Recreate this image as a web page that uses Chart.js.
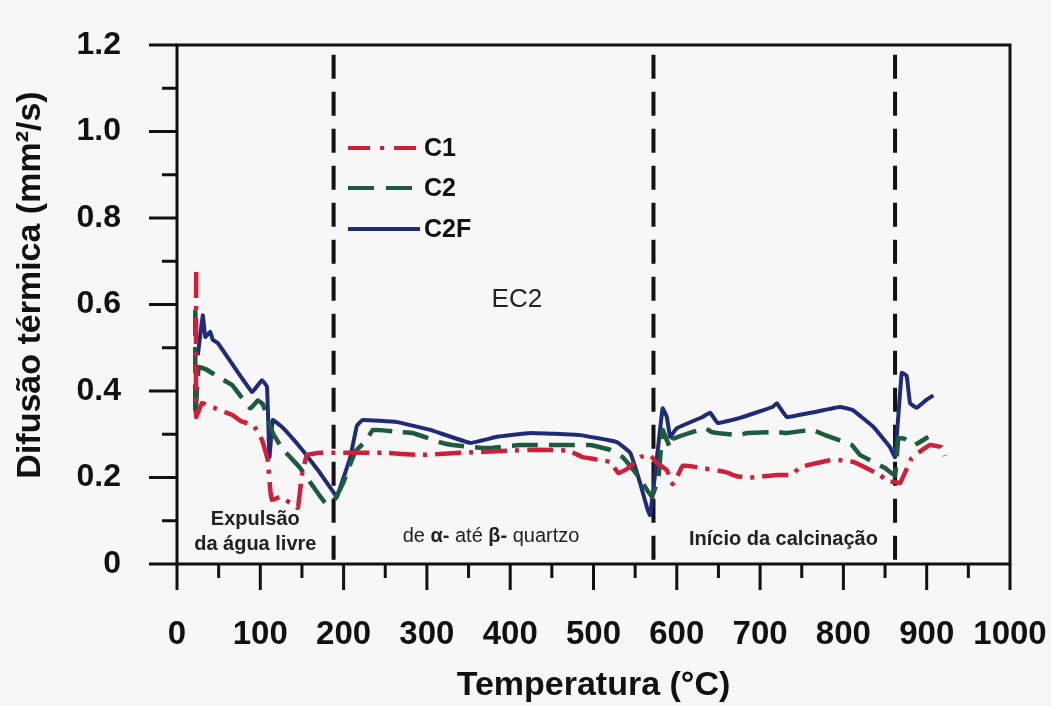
<!DOCTYPE html>
<html>
<head>
<meta charset="utf-8">
<script src="https://cdn.jsdelivr.net/npm/chart.js@4.4.1/dist/chart.umd.min.js"></script>
<style>
  body { margin: 0; background: #f7f7f7; }
  #wrap { width: 1051px; height: 706px; position: relative; }
</style>
</head>
<body>
<div id="wrap"><canvas id="myChart"></canvas></div>
<script>
// Temperatures (°C) and thermal diffusivity (mm²/s)
const c1Temp = [23, 23, 30, 46, 66, 77, 92, 102, 109, 112, 114, 124, 136, 145, 150, 156, 172, 196, 250, 290, 340, 400, 430, 470, 487, 520, 530, 542, 556, 568, 575, 588, 595, 600, 607, 624, 658, 672, 688, 721, 738, 748, 784, 796, 812, 844, 853, 862, 868, 882, 892, 904, 918, 922];
const c1Val  = [0.675, 0.34, 0.372, 0.36, 0.345, 0.33, 0.32, 0.287, 0.24, 0.17, 0.148, 0.155, 0.141, 0.13, 0.206, 0.252, 0.257, 0.257, 0.257, 0.252, 0.257, 0.262, 0.264, 0.262, 0.247, 0.236, 0.21, 0.222, 0.247, 0.252, 0.235, 0.217, 0.185, 0.2, 0.227, 0.224, 0.213, 0.203, 0.2, 0.206, 0.206, 0.224, 0.24, 0.24, 0.236, 0.206, 0.19, 0.19, 0.187, 0.245, 0.26, 0.275, 0.27, 0.25];

const c2Temp = [22, 22, 26, 35, 50, 66, 88, 97, 103, 115, 126, 147, 158, 178, 188, 200, 214, 228, 235, 270, 283, 315, 331, 372, 412, 460, 496, 508, 520, 535, 555, 570, 578, 583, 592, 596, 634, 642, 673, 685, 720, 732, 763, 778, 810, 820, 850, 862, 866, 873, 885, 902];
const c2Val  = [0.587, 0.34, 0.455, 0.45, 0.432, 0.414, 0.36, 0.378, 0.37, 0.303, 0.268, 0.224, 0.194, 0.141, 0.145, 0.19, 0.26, 0.287, 0.31, 0.305, 0.303, 0.282, 0.275, 0.268, 0.275, 0.275, 0.275, 0.27, 0.264, 0.247, 0.2, 0.155, 0.2, 0.31, 0.268, 0.29, 0.314, 0.305, 0.298, 0.303, 0.305, 0.303, 0.31, 0.298, 0.275, 0.252, 0.222, 0.205, 0.29, 0.29, 0.275, 0.294];

const c2fTemp = [25, 31, 34, 40, 43, 49, 90, 102, 108, 111, 115, 124, 132, 150, 170, 190, 192, 208, 216, 223, 264, 304, 352, 384, 424, 484, 528, 544, 556, 565, 568, 577, 583, 588, 592, 600, 631, 640, 649, 676, 715, 720, 732, 764, 796, 811, 836, 856, 862, 870, 876, 880, 888, 900, 908];
const c2fVal  = [0.483, 0.575, 0.525, 0.537, 0.518, 0.511, 0.398, 0.425, 0.41, 0.247, 0.333, 0.32, 0.305, 0.265, 0.215, 0.16, 0.155, 0.247, 0.32, 0.333, 0.328, 0.31, 0.28, 0.294, 0.303, 0.298, 0.282, 0.257, 0.187, 0.125, 0.113, 0.26, 0.36, 0.34, 0.294, 0.314, 0.34, 0.35, 0.326, 0.338, 0.363, 0.372, 0.34, 0.351, 0.363, 0.356, 0.317, 0.27, 0.247, 0.442, 0.435, 0.372, 0.361, 0.38, 0.39];

// stage boundaries (dashed vertical lines)
const boundaries = [188, 572, 862];

const seriesNames = ['C1', 'C2', 'C2F'];
const seriesColors = ['#cf1f3a', '#1e5a3c', '#1f2a78'];
const seriesDash = [[26, 8, 4, 8], [26, 11], []];

const xTicksMajor = [0, 100, 200, 300, 400, 500, 600, 700, 800, 900, 1000];
const xTicksMinor = [50, 150, 250, 350, 450, 550, 650, 750, 850, 950];
const yTicksMajor = [0, 0.2, 0.4, 0.6, 0.8, 1.0, 1.2];
const yTicksMinor = [0.1, 0.3, 0.5, 0.7, 0.9, 1.1];

const yTitle = 'Difusão térmica (mm²/s)';

// text labels inside the plot, placed in data coordinates
const notes = [
  { parts: [['EC2', '26px "Liberation Sans"']], x: 408, y: 0.61 },
  { parts: [['Expulsão', 'bold 20px "Liberation Sans"']], x: 94, y: 0.103 },
  { parts: [['da água livre', 'bold 20px "Liberation Sans"']], x: 94, y: 0.044 },
  { parts: [['de ', '20px "Liberation Sans"'], ['α-', 'bold 20px "Liberation Sans"'], [' até ', '20px "Liberation Sans"'], ['β-', 'bold 20px "Liberation Sans"'], [' quartzo', '20px "Liberation Sans"']], x: 377, y: 0.063 },
  { parts: [['Início da calcinação', 'bold 20px "Liberation Sans"']], x: 728, y: 0.056 }
];

const toPoints = (xs, ys) => xs.map((t, i) => ({ x: t, y: ys[i] }));

const datasets = [
  { label: 'C1', data: toPoints(c1Temp, c1Val) },
  { label: 'C2', data: toPoints(c2Temp, c2Val) },
  { label: 'C2F', data: toPoints(c2fTemp, c2fVal) }
].map((ds, i) => ({
  ...ds,
  borderColor: seriesColors[i],
  borderDash: seriesDash[i],
  borderWidth: i === 2 ? 4 : 4.5,
  pointRadius: 0,
  fill: false,
  tension: 0.08
}));

boundaries.forEach(b => {
  datasets.push({
    label: 'boundary',
    data: [{ x: b, y: 0.01 }, { x: b, y: 1.19 }],
    borderColor: '#111',
    borderWidth: 4,
    borderDash: [24, 13],
    pointRadius: 0,
    fill: false
  });
});

// frame + outside tick marks + y title
const framePlugin = {
  id: 'frame',
  afterDraw(chart) {
    const { ctx, chartArea: a, scales: { x, y } } = chart;
    ctx.save();
    ctx.strokeStyle = '#111';
    ctx.lineWidth = 3;
    ctx.strokeRect(a.left, a.top, a.right - a.left, a.bottom - a.top);
    ctx.beginPath();
    yTicksMajor.forEach(v => { const p = y.getPixelForValue(v); ctx.moveTo(a.left - 28, p); ctx.lineTo(a.left, p); });
    yTicksMinor.forEach(v => { const p = y.getPixelForValue(v); ctx.moveTo(a.left - 15, p); ctx.lineTo(a.left, p); });
    xTicksMajor.forEach(v => { const p = x.getPixelForValue(v); ctx.moveTo(p, a.bottom); ctx.lineTo(p, a.bottom + 26); });
    xTicksMinor.forEach(v => { const p = x.getPixelForValue(v); ctx.moveTo(p, a.bottom); ctx.lineTo(p, a.bottom + 14); });
    ctx.stroke();

    ctx.translate(31, 285);
    ctx.rotate(-Math.PI / 2);
    ctx.fillStyle = '#111';
    ctx.font = 'bold 34px "Liberation Sans"';
    ctx.textAlign = 'center';
    ctx.textBaseline = 'middle';
    ctx.fillText(yTitle, 0, 0);
    ctx.restore();
  }
};

// legend drawn inside the plot, plus the text notes
const notesPlugin = {
  id: 'notes',
  afterDatasetsDraw(chart) {
    const { ctx, scales: { x, y } } = chart;
    ctx.save();
    // legend
    seriesNames.forEach((name, i) => {
      const ly = [148, 188, 229][i];
      ctx.strokeStyle = seriesColors[i];
      ctx.lineWidth = 4;
      ctx.setLineDash(i === 0 ? [22, 10, 4, 10] : i === 1 ? [26, 12] : []);
      ctx.beginPath();
      ctx.moveTo(348, ly);
      ctx.lineTo(420, ly);
      ctx.stroke();
      ctx.setLineDash([]);
      ctx.fillStyle = '#111';
      ctx.font = 'bold 25px "Liberation Sans"';
      ctx.textAlign = 'left';
      ctx.textBaseline = 'middle';
      ctx.fillText(name, 424, ly + 1);
    });
    // notes
    ctx.fillStyle = '#222';
    ctx.textBaseline = 'middle';
    ctx.textAlign = 'left';
    notes.forEach(n => {
      let total = 0;
      n.parts.forEach(([t, f]) => { ctx.font = f; total += ctx.measureText(t).width; });
      let px = x.getPixelForValue(n.x) - total / 2;
      const py = y.getPixelForValue(n.y);
      n.parts.forEach(([t, f]) => { ctx.font = f; ctx.fillText(t, px, py); px += ctx.measureText(t).width; });
    });
    ctx.restore();
  }
};

const ctx = document.getElementById('myChart').getContext('2d');
new Chart(ctx, {
  type: 'line',
  data: { datasets },
  options: {
    responsive: true,
    maintainAspectRatio: false,
    animation: false,
    layout: { padding: { top: 45, right: 41, left: 0, bottom: 0 } },
    plugins: { legend: { display: false }, tooltip: { enabled: false } },
    scales: {
      x: {
        type: 'linear',
        min: 0,
        max: 1000,
        grid: { display: false },
        border: { display: false },
        ticks: {
          stepSize: 100,
          color: '#111',
          padding: 43,
          maxRotation: 0,
          minRotation: 0,
          autoSkip: false,
          font: { family: 'Liberation Sans', size: 33, weight: 'bold' },
          callback: v => String(v)
        },
        title: { display: true, text: 'Temperatura (°C)', color: '#111', padding: { top: 0, bottom: 0 }, font: { family: 'Liberation Sans', size: 34, weight: 'bold' } },
        afterFit: s => { s.height = 142; s.paddingLeft = 0; s.paddingRight = 0; }
      },
      y: {
        min: 0,
        max: 1.2,
        grid: { display: false },
        border: { display: false },
        ticks: {
          stepSize: 0.2,
          color: '#111',
          padding: 48,
          font: { family: 'Liberation Sans', size: 32, weight: 'bold' },
          callback: v => (v === 0 ? '0' : v.toFixed(1))
        },
        afterFit: s => { s.width = 177; s.paddingTop = 0; s.paddingBottom = 0; }
      }
    }
  },
  plugins: [framePlugin, notesPlugin]
});
</script>
</body>
</html>
